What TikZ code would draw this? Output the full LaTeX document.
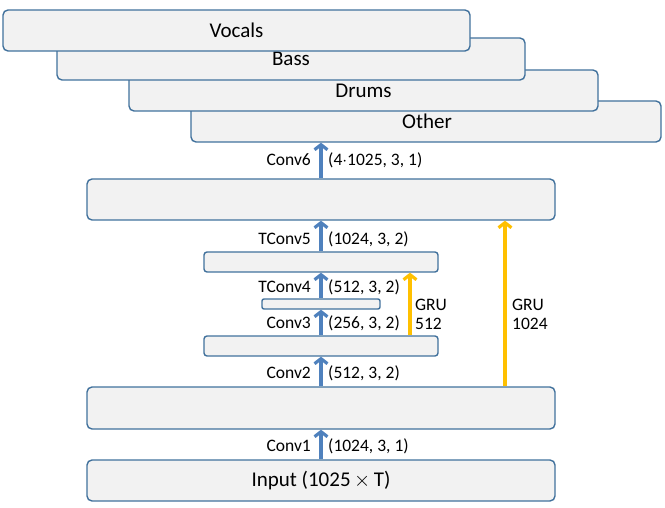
\documentclass[tikz,border=0pt]{standalone}
\usepackage{fontspec}
\setmainfont{Carlito}
\usetikzlibrary{arrows.meta}
\definecolor{boxfill}{RGB}{242,242,242}
\definecolor{boxline}{RGB}{65,113,156}
\definecolor{arrblue}{RGB}{79,129,189}
\definecolor{arrgold}{RGB}{255,192,0}
\tikzset{
  layer/.style={draw=boxline, fill=boxfill, line width=1.4pt, rounded corners=5pt, inner sep=0pt, font=\fontsize{21}{25}\selectfont},
  thinlayer/.style={layer, rounded corners=3pt},
  lbl/.style={inner sep=0pt, font=\fontsize{17.5}{20}\selectfont},
  bluearr/.style={draw=arrblue, line width=3.2pt, -{Straight Barb[length=5pt,width=13pt]}},
  goldarr/.style={draw=arrgold, line width=3.2pt, -{Straight Barb[length=5pt,width=13pt]}},
}
\begin{document}
\begin{tikzpicture}[x=1pt,y=-1pt]
\useasboundingbox (0,0) rectangle (665,508);
% output stack
\node[layer, minimum width=470pt, minimum height=41pt] (other) at (426,121.5) {\hspace*{2pt}Other};
\node[layer, minimum width=469pt, minimum height=41pt] (drums) at (363.5,90.5) {Drums};
\node[layer, minimum width=468pt, minimum height=42pt] (bass) at (291,59) {Bass};
\node[layer, minimum width=467pt, minimum height=41pt] (vocals) at (236.5,30.5) {Vocals};
% network boxes
\node[layer, minimum width=468pt, minimum height=41pt] (A) at (321,199.5) {};
\node[thinlayer, minimum width=234pt, minimum height=20pt] (B) at (321,262) {};
\node[thinlayer, rounded corners=2pt, minimum width=118pt, minimum height=10pt] (C) at (321,304) {};
\node[thinlayer, minimum width=234pt, minimum height=20pt] (D) at (321,346) {};
\node[layer, minimum width=468pt, minimum height=42pt] (E) at (321,408) {};
\node[layer, minimum width=468pt, minimum height=41pt] (input) at (321,480.5) {Input (1025\,$\times$\,T)};
% arrows
\draw[bluearr] (A.north) -- (A.north |- other.south);
\draw[bluearr] (B.north) -- (A.south);
\draw[bluearr] (C.north) -- (B.south);
\draw[bluearr] (D.north) -- (C.south);
\draw[bluearr] (E.north) -- (D.south);
\draw[bluearr] (input.north) -- (E.south);
\draw[goldarr] (410,0 |- D.north) -- (410,0 |- B.south);
\draw[goldarr] (505,0 |- E.north) -- (505,0 |- A.south);
% labels
\node[lbl, anchor=east] (l6) at (311,160) {Conv6};
\node[lbl, anchor=west] (p6) at (328,160) {(4$\cdot$1025, 3, 1)};
\node[lbl, anchor=east] (l5) at (311,239) {TConv5};
\node[lbl, anchor=west] (p5) at (328,239) {(1024, 3, 2)};
\node[lbl, anchor=east] (l4) at (311,287) {TConv4};
\node[lbl, anchor=west] (p4) at (328,287) {(512, 3, 2)};
\node[lbl, anchor=east] (l3) at (311,323) {Conv3};
\node[lbl, anchor=west] (p3) at (328,323) {(256, 3, 2)};
\node[lbl, anchor=east] (l2) at (311,373) {Conv2};
\node[lbl, anchor=west] (p2) at (328,373) {(512, 3, 2)};
\node[lbl, anchor=east] (l1) at (311,446) {Conv1};
\node[lbl, anchor=west] (p1) at (328,446) {(1024, 3, 1)};
\node[lbl, anchor=west, align=left] (g1) at (415,314) {GRU\\[-1pt]512};
\node[lbl, anchor=west, align=left] (g2) at (512,314) {GRU\\[-1pt]1024};
\end{tikzpicture}
\end{document}
